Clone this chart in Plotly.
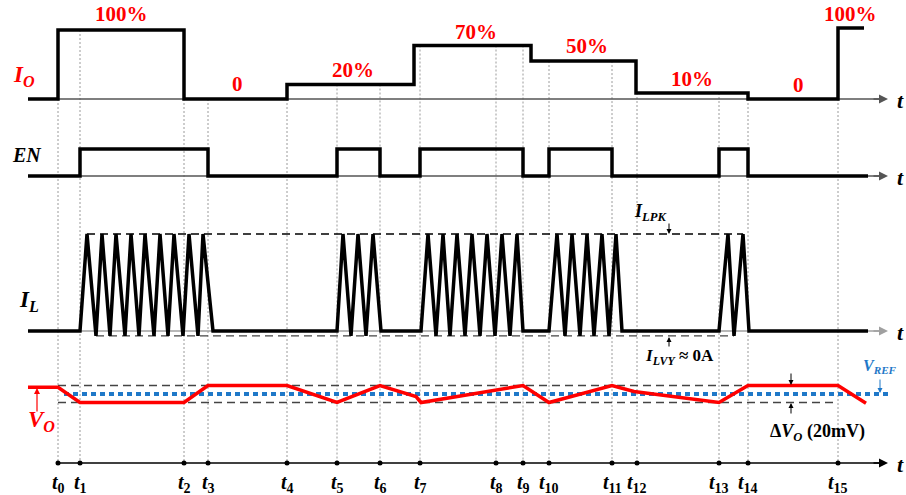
import plotly.graph_objects as go

# ---------------- data ----------------
t_names = ["t<sub>%d</sub>" % i for i in range(16)]
t_marks = [58, 80, 184, 208, 287, 337, 380, 420, 496, 523, 549, 612, 637, 719, 748, 838]

# output current I_O (fraction of full load) - step waveform
io_t = [28, 58, 184, 287, 414, 531, 636, 748, 838, 864]
io_level = [0.0, 1.0, 0.0, 0.21, 0.775, 0.55, 0.087, 0.0, 1.03, 1.03]
io_text = ["100%", "0", "20%", "70%", "50%", "10%", "0", "100%"]

# enable signal EN
en_t = [28, 80, 208, 337, 380, 420, 523, 549, 612, 719, 748, 868]
en_level = [0, 1, 0, 1, 0, 1, 0, 1, 0, 1, 0, 0]

# inductor current I_L (1 = I_LPK, -0.05 = I_LVY)
il_t = [28,
        80, 87, 96, 102, 110, 116, 125, 131, 139, 145, 154, 160, 168, 174, 183, 189, 198, 203, 213,
        337, 343, 351, 358, 366, 373, 381,
        421, 428, 436, 443, 450, 457, 465, 472, 480, 487, 495, 502, 510, 517, 523,
        549, 557, 565, 572, 580, 587, 594, 602, 609, 616, 622,
        719, 728, 734, 743, 749,
        868]
il_level = [0,
            0, 1, -0.05, 1, -0.05, 1, -0.05, 1, -0.05, 1, -0.05, 1, -0.05, 1, -0.05, 1, -0.05, 1, 0,
            0, 1, -0.05, 1, -0.05, 1, 0,
            0, 1, -0.05, 1, -0.05, 1, -0.05, 1, -0.05, 1, -0.05, 1, -0.05, 1, 0,
            0, 1, -0.05, 1, -0.05, 1, -0.05, 1, -0.05, 1, 0,
            0, 1, -0.05, 1, 0,
            0]
il_pk = 1.0
il_vy = -0.05

# output voltage V_O (mV relative to V_REF)
vo_t = [28, 58, 80, 184, 208, 287, 337, 380, 416, 421, 523, 549, 612, 634, 719, 748, 838, 866]
vo_mv = [8, 8, -10, -10, 10, 10, -10, 10, -3, -10, 10, -10, 10, 3, -10, 10, 10, -11]
vo_band = 10  # +/- 10 mV (20 mV ripple)

# ---------------- layout helpers ----------------
W, H = 906, 495
SERIF = "Liberation Serif, Times New Roman, serif"
RED = "#FF0000"
BLUE = "#1F78C8"


def yrange(base_px, ppu):
    return [(base_px - H) / ppu, base_px / ppu]


IO_BASE, IO_PPU = 99, 69
EN_BASE, EN_PPU = 176, 27
IL_BASE, IL_PPU = 331, 97
VO_BASE, VO_PPU = 394, 0.85
AX_BOTTOM = 463


def io_at(x):
    lv = io_level[0]
    for tt, l in zip(io_t, io_level):
        if tt <= x:
            lv = l
    return lv


fig = go.Figure()

# vertical dotted guides
gx, gy = [], []
for tm in t_marks:
    lv = min(io_at(tm - 0.5), io_at(tm + 0.5))
    gx += [tm, tm, None]
    gy += [IO_BASE - IO_PPU * lv, AX_BOTTOM, None]
fig.add_trace(go.Scatter(x=gx, y=gy, mode="lines", yaxis="y",
                         line=dict(color="#9a9a9a", width=1, dash="2px,2px")))

# thin axis lines
for base, col in [(IO_BASE, "#555"), (EN_BASE, "#555"), (IL_BASE, "#a0a0a0")]:
    fig.add_trace(go.Scatter(x=[28, 880], y=[base, base], mode="lines", yaxis="y",
                             line=dict(color=col, width=1.5)))
fig.add_trace(go.Scatter(x=[t_marks[0], 880], y=[AX_BOTTOM, AX_BOTTOM], mode="lines", yaxis="y",
                         line=dict(color="black", width=1.5)))
fig.add_trace(go.Scatter(x=t_marks, y=[AX_BOTTOM] * len(t_marks), mode="markers", yaxis="y",
                         marker=dict(color="black", size=5), cliponaxis=False))

# I_LPK / I_LVY dashed references
pk_x = [x for x, l in zip(il_t, il_level) if l == il_pk]
vy_x = [x for x, l in zip(il_t, il_level) if l == il_vy]
fig.add_trace(go.Scatter(x=[min(pk_x), max(pk_x)], y=[il_pk, il_pk], mode="lines", yaxis="y4",
                         line=dict(color="black", width=1.3, dash="8px,5px")))
fig.add_trace(go.Scatter(x=[min(vy_x), max(vy_x)], y=[il_vy, il_vy], mode="lines", yaxis="y4",
                         line=dict(color="#444", width=1.3, dash="8px,5px")))

# V_O band and V_REF
for lv in (vo_band, -vo_band):
    fig.add_trace(go.Scatter(x=[t_marks[0], t_marks[-1]], y=[lv, lv], mode="lines", yaxis="y5",
                             line=dict(color="#444", width=1.3, dash="8px,5px")))
fig.add_trace(go.Scatter(x=[64, 892], y=[0, 0], mode="lines", yaxis="y5",
                         line=dict(color=BLUE, width=4, dash="5px,4px")))

# waveforms
fig.add_trace(go.Scatter(x=io_t, y=io_level, mode="lines", yaxis="y2", line_shape="hv",
                         line=dict(color="black", width=3.5)))
fig.add_trace(go.Scatter(x=en_t, y=en_level, mode="lines", yaxis="y3", line_shape="hv",
                         line=dict(color="black", width=3.5)))
fig.add_trace(go.Scatter(x=il_t, y=il_level, mode="lines", yaxis="y4",
                         line=dict(color="black", width=3.5)))
fig.add_trace(go.Scatter(x=vo_t, y=vo_mv, mode="lines", yaxis="y5",
                         line=dict(color=RED, width=3.5)))

ann = []


def text(x, y, s, size, color="black", xanchor="center"):
    ann.append(dict(x=x, y=y, xref="x", yref="y", text=s, showarrow=False,
                    xanchor=xanchor, yanchor="middle",
                    font=dict(family=SERIF, size=size, color=color)))


def arrow(x0, y0, x1, y1, color, width=1.2, head=2, size=1.0):
    ann.append(dict(x=x1, y=y1, ax=x0, ay=y0, xref="x", yref="y", axref="x", ayref="y",
                    text="", showarrow=True, arrowhead=head, arrowsize=size,
                    arrowwidth=width, arrowcolor=color, standoff=0, startstandoff=0))


# axis arrowheads and "t" labels
for base, col in [(IO_BASE, "#555"), (EN_BASE, "#555"), (IL_BASE, "#a0a0a0"), (AX_BOTTOM, "black")]:
    arrow(872, base, 888, base, col, width=1.5, head=2, size=1.2)
    text(900, base + 1, "<b><i>t</i></b>", 22)

# I_O level labels
lab_x = [121, 237, 353, 476, 587, 692, 798, 850]
lab_y = [14, 84, 70, 32, 46, 79, 85, 14]
for s, x, y in zip(io_text, lab_x, lab_y):
    text(x, y, "<b>%s</b>" % s, 21, RED)

# signal names
text(11, 76, "<b><i>I<sub>O</sub></i></b>", 23, RED, "left")
text(10, 155, "<b><i>EN</i></b>", 20, "black", "left")
text(17, 301, "<b><i>I<sub>L</sub></i></b>", 23, "black", "left")
text(26, 421, "<b><i>V<sub>O</sub></i></b>", 23, RED, "left")
arrow(37, 413, 37, 388, RED, width=1.2)

# I_L annotations
text(632, 212, "<b><i>I<sub>LPK</sub></i></b>", 18, "black", "left")
arrow(669, 222, 669, 234, "black", width=1)
text(643, 357, "<b><i>I<sub>LVY</sub></i> \u2248 0A</b>", 17, "black", "left")
arrow(669, 348, 669, 337, "black", width=1)

# V_O annotations
text(861, 366, "<b><i>V<sub>REF</sub></i></b>", 16, BLUE, "left")
arrow(880, 378, 880, 393, BLUE, width=1)
arrow(791, 372, 791, 385, "black", width=1)
arrow(791, 415, 791, 403, "black", width=1)
text(768, 432, "<b>\u0394<i>V<sub>O</sub></i> (20mV)</b>", 18, "black", "left")

# time labels
for s, x in zip(t_names, t_marks):
    text(x, 483, "<b><i>t</i>%s</b>" % s[1:], 20)

fig.update_layout(
    width=W, height=H, margin=dict(l=0, r=0, t=0, b=0),
    paper_bgcolor="white", plot_bgcolor="white", showlegend=False,
    xaxis=dict(range=[0, W], visible=False, fixedrange=True),
    yaxis=dict(range=[H, 0], visible=False),
    yaxis2=dict(range=yrange(IO_BASE, IO_PPU), overlaying="y", visible=False),
    yaxis3=dict(range=yrange(EN_BASE, EN_PPU), overlaying="y", visible=False),
    yaxis4=dict(range=yrange(IL_BASE, IL_PPU), overlaying="y", visible=False),
    yaxis5=dict(range=yrange(VO_BASE, VO_PPU), overlaying="y", visible=False),
    annotations=ann,
)

fig.write_html("out.html")
